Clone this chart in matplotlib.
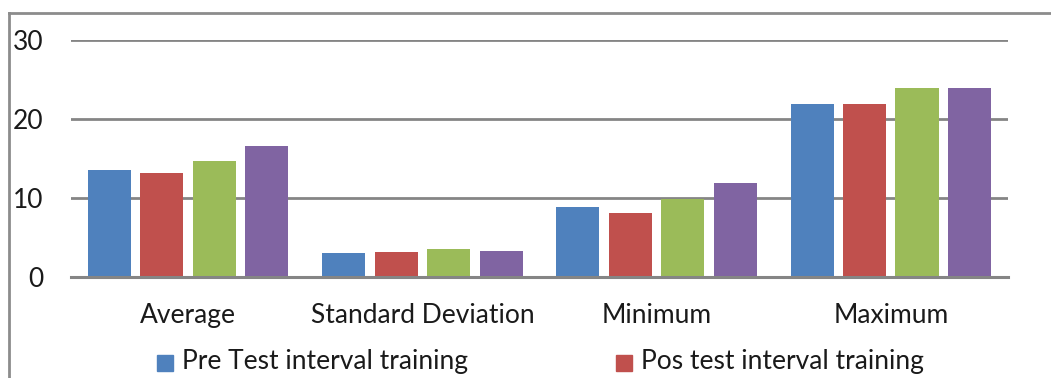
import matplotlib.pyplot as plt
from matplotlib.lines import Line2D
import numpy as np

categories = ["Average", "Standard Deviation", "Minimum", "Maximum"]
pre_test = [13.6, 3.0, 8.9, 21.9]
pos_test = [13.2, 3.2, 8.1, 21.9]
series_3 = [14.7, 3.5, 9.9, 23.9]
series_4 = [16.6, 3.3, 11.9, 23.9]
series_labels = ["Pre Test interval training", "Pos test interval training"]
y_ticks = [0, 10, 20, 30]

colors = ["#4f81bd", "#c0504d", "#9bbb59", "#8064a2"]
plt.rcParams['font.family'] = ['Lato', 'DejaVu Sans']
txt = '#1a1a1a'
fs = 19

fig = plt.figure(figsize=(10.51, 3.78), dpi=100)
ax = fig.add_axes([0.0676, 0.267, 0.959 - 0.0676, 0.894 - 0.267])

x = np.arange(len(categories))
width = 0.184
step = 0.224
for j, vals in enumerate([pre_test, pos_test, series_3, series_4]):
    ax.bar(x + (j - 1.5) * step, vals, width, color=colors[j], zorder=3)

ax.set_xlim(-0.5, len(categories) - 0.5)
ax.set_ylim(0, 30)
ax.set_yticks(y_ticks)
ax.set_xticks(x)
ax.set_xticklabels(categories)
ax.tick_params(axis='both', length=0, labelsize=fs, colors=txt)
ax.tick_params(axis='y', pad=20)
ax.tick_params(axis='x', pad=19)
for s in ax.spines.values():
    s.set_visible(False)
ax.grid(axis='y', color='#858585', linewidth=2, zorder=0)
ax.axhline(0, color='#858585', linewidth=2.2, zorder=4, clip_on=False)

# outer chart frame (top and left edges visible in the crop)
fig.add_artist(Line2D([9 / 1051, 9 / 1051], [0, 1 - 13 / 378], color='#8c8c8c', linewidth=2))
fig.add_artist(Line2D([9 / 1051, 1], [1 - 13 / 378, 1 - 13 / 378], color='#8c8c8c', linewidth=2))

# legend (second row is cut off in the original)
fig.text(182 / 1051, 1 - 362 / 378, series_labels[0], fontsize=fs, va='center', color=txt)
fig.text(641 / 1051, 1 - 362 / 378, series_labels[1], fontsize=fs, va='center', color=txt)
fig.add_artist(plt.Rectangle((157 / 1051, 1 - 371 / 378), 16 / 1051, 16 / 378, color=colors[0]))
fig.add_artist(plt.Rectangle((616 / 1051, 1 - 371 / 378), 16 / 1051, 16 / 378, color=colors[1]))

fig.savefig('out.png', dpi=100)
